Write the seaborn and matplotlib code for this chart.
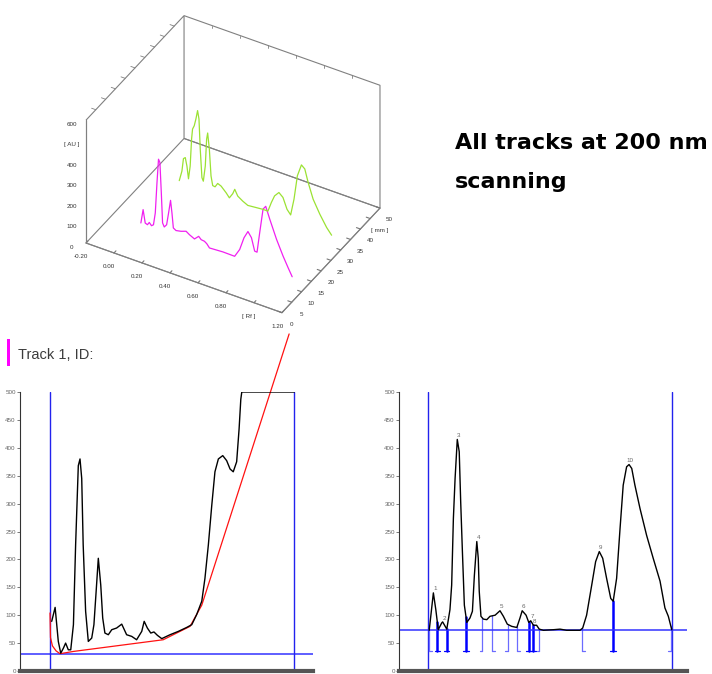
import numpy as np
import matplotlib
matplotlib.use("Agg")
import matplotlib.pyplot as plt
import seaborn as sns
from matplotlib import font_manager
from matplotlib.patches import Rectangle
from matplotlib.lines import Line2D
from mpl_toolkits.mplot3d import proj3d

# ---------------- data ----------------
# 3D overview (Rf, AU) for two tracks
track1_mm = 10
track1_rf = [0.052, 0.068, 0.083, 0.099, 0.112, 0.128, 0.142, 0.155, 0.167, 0.178,
             0.188, 0.198, 0.207, 0.219, 0.236, 0.250, 0.264, 0.274, 0.284, 0.303,
             0.339, 0.375, 0.399, 0.435, 0.465, 0.483, 0.506, 0.523, 0.542, 0.638,
             0.722, 0.758, 0.789, 0.817, 0.842, 0.865, 0.882, 0.901, 0.925, 0.944,
             0.973, 1.021, 1.068, 1.104, 1.133]
track1_au = [57, 126, 64, 60, 74, 62, 70, 131, 281, 399,
             385, 240, 95, 78, 93, 154, 219, 160, 89, 81,
             86, 95, 84, 72, 92, 80, 78, 70, 54, 58,
             57, 99, 164, 201, 177, 117, 116, 216, 337, 355,
             299, 213, 142, 94, 57]
track2_mm = 30
track2_rf = [0.046, 0.065, 0.076, 0.089, 0.101, 0.112, 0.124, 0.134, 0.141, 0.153,
             0.165, 0.177, 0.187, 0.196, 0.208, 0.218, 0.232, 0.2415, 0.249, 0.261,
             0.273, 0.285, 0.302, 0.3205, 0.345, 0.381, 0.404, 0.428, 0.4425, 0.464,
             0.500, 0.536, 0.596, 0.6435, 0.6795, 0.704, 0.727, 0.758, 0.787, 0.816,
             0.842, 0.866, 0.890, 0.919, 0.943, 0.9665, 1.0025, 1.0505, 1.099, 1.1345]
track2_au = [58, 109, 173, 181, 142, 83, 148, 282, 333, 352,
             388, 432, 393, 248, 112, 97, 175, 308, 340, 264,
             136, 92, 90, 111, 104, 80, 61, 87, 112, 84,
             68, 56, 60, 63, 63, 111, 149, 173, 156, 105,
             84, 167, 287, 347, 333, 274, 200, 138, 85, 56]

rf_ticks = [-0.2, 0.0, 0.2, 0.4, 0.6, 0.8, 1.0, 1.2]
rf_ticklabels = ["-0.20", "0.00", "0.20", "0.40", "0.60", "0.80", "[ Rf ]", "1.20"]
mm_ticks = [0, 5, 10, 15, 20, 25, 30, 35, 40, 45, 50]
mm_ticklabels = ["0", "5", "10", "15", "20", "25", "30", "35", "40", "[ mm ]", "50"]
au_ticks = [0, 100, 200, 300, 400, 500, 600]
au_ticklabels = ["0", "100", "200", "300", "400", "[ AU ]", "600"]

# Track 1 scan (left)
scan1_x = [0.007, 0.021, 0.034, 0.044, 0.055, 0.064, 0.075, 0.085, 0.096, 0.105,
           0.116, 0.123, 0.130, 0.136, 0.146, 0.157, 0.171, 0.180, 0.189, 0.198,
           0.208, 0.216, 0.225, 0.239, 0.253, 0.273, 0.294, 0.314, 0.335, 0.355,
           0.376, 0.386, 0.399, 0.413, 0.426, 0.440, 0.458, 0.492, 0.526, 0.560,
           0.581, 0.601, 0.622, 0.635, 0.649, 0.663, 0.676, 0.690, 0.708, 0.724,
           0.738, 0.751, 0.765, 0.775, 0.782, 0.786, 1.001]
scan1_y = [89, 114, 53, 32, 41, 50, 38, 38, 83, 226,
           368, 380, 345, 226, 107, 53, 59, 83, 142, 202,
           154, 95, 68, 65, 74, 77, 84, 65, 62, 56,
           71, 89, 77, 68, 70, 64, 58, 65, 71, 78,
           83, 101, 125, 166, 226, 297, 357, 380, 386, 377,
           362, 357, 375, 434, 487, 500, 500]
base1_x = [0.0, 0.002, 0.010, 0.025, 0.041, 0.095, 0.464, 0.574, 0.622, 0.980]
base1_y = [104, 60, 45, 36, 31, 35, 56, 80, 118, 604]
scan1_hline = 30

# Track 2 scan (right)
scan2_x = [0.005, 0.022, 0.032, 0.042, 0.056, 0.060, 0.077, 0.090, 0.097, 0.104,
           0.111, 0.120, 0.128, 0.134, 0.141, 0.149, 0.159, 0.172, 0.182, 0.190,
           0.200, 0.206, 0.210, 0.217, 0.227, 0.241, 0.254, 0.275, 0.295, 0.309,
           0.325, 0.343, 0.364, 0.377, 0.386, 0.402, 0.413, 0.421, 0.432, 0.445,
           0.456, 0.473, 0.514, 0.541, 0.568, 0.623, 0.634, 0.650, 0.671, 0.687,
           0.702, 0.716, 0.732, 0.749, 0.759, 0.773, 0.787, 0.800, 0.814, 0.824,
           0.835, 0.848, 0.869, 0.896, 0.923, 0.951, 0.971, 0.985, 0.999]
scan2_y = [73, 140, 110, 74, 86, 88, 75, 110, 154, 273,
           345, 415, 393, 303, 214, 118, 87, 95, 107, 171,
           232, 202, 143, 98, 93, 92, 98, 100, 108, 98,
           84, 80, 78, 95, 108, 100, 87, 90, 82, 82,
           75, 73, 74, 75, 73, 73, 77, 100, 154, 196,
           214, 202, 166, 130, 125, 166, 255, 333, 366, 370,
           363, 333, 291, 243, 202, 161, 113, 98, 74]
scan2_hline = 73
peak_start = [0.005, 0.038, 0.077, 0.156, 0.264, 0.366, 0.413, 0.432, 0.632, 0.759]
peak_end = [0.038, 0.077, 0.156, 0.223, 0.328, 0.413, 0.432, 0.456, 0.759, 0.995]
peak_labels = ["1", "2", "3", "4", "5", "6", "7", "8", "9", "10"]
bracket_bottom = 36
scan_yticks = [0, 50, 100, 150, 200, 250, 300, 350, 400, 450, 500]

title_lines = ["All tracks at 200 nm", "scanning"]
track_title = "Track 1, ID:"

# ---------------- figure ----------------
sns.set_style("white")
plt.rcParams["font.family"] = ["Liberation Sans", "DejaVu Sans"]
W, H = 712, 674
fig = plt.figure(figsize=(W / 100, H / 100), dpi=100)
fig.patch.set_facecolor("white")


def fig_rect(x0, y0, x1, y1):
    return [x0 / W, (H - y1) / H, (x1 - x0) / W, (y1 - y0) / H]


# ---- 3D overview ----
ax3 = fig.add_axes([80 / W, 359 / H, 300 / W, 300 / H], projection="3d")
ax3.set_proj_type("ortho")
ax3.view_init(elev=38, azim=-60)
ax3.set_box_aspect((225, 195, 155))
ax3.set_facecolor("none")
rf_lo, rf_hi = rf_ticks[0], rf_ticks[-1]
mm_lo, mm_hi = mm_ticks[0], mm_ticks[-1]
au_lo, au_hi = au_ticks[0], au_ticks[-1]
box_col = "#808080"
ax3.plot(track1_rf, np.full(len(track1_rf), track1_mm), track1_au, color="#f020f0", lw=0.9)
ax3.plot(track2_rf, np.full(len(track2_rf), track2_mm), track2_au, color="#9be233", lw=0.9)
# decorative ticks on the upper edges of the box
for m in mm_ticks[1:-1]:
    ax3.plot([rf_lo, rf_lo - 0.03], [m, m], [au_hi, au_hi], color=box_col, lw=0.6)
for r in rf_ticks[1:-1]:
    ax3.plot([r, r], [mm_hi, mm_hi], [au_hi, au_hi - 14], color=box_col, lw=0.6)
ax3.set_xlim(rf_lo, rf_hi)
ax3.set_ylim(mm_lo, mm_hi)
ax3.set_zlim(au_lo, au_hi)
ax3.set_xticks(rf_ticks, labels=rf_ticklabels)
ax3.set_yticks(mm_ticks, labels=mm_ticklabels)
ax3.set_zticks(au_ticks, labels=au_ticklabels)
ax3.grid(False)
for axis in (ax3.xaxis, ax3.yaxis, ax3.zaxis):
    axis.pane.set_alpha(None)
    axis.pane.set_facecolor((1, 1, 1, 0))
    axis.pane.set_edgecolor(box_col)
    axis.pane.set_linewidth(0.8)
    axis.line.set_color(box_col)
    axis.line.set_linewidth(0.8)
    axis._axinfo["tick"]["inward_factor"] = 0.0
    axis._axinfo["tick"]["outward_factor"] = 0.25
    axis.set_tick_params(labelsize=4.5, labelcolor="#333333", color="#777777", width=0.5, pad=-2)
ax3.zaxis._axinfo["tick"]["outward_factor"] = 0.0
ax3.zaxis.set_ticks_position("lower")
ax3.zaxis.set_label_position("lower")

# fit the projected box to the layout
fig.canvas.draw()
corners = np.array([(rf_lo, mm_lo, au_lo), (rf_hi, mm_lo, au_lo), (rf_hi, mm_hi, au_lo),
                    (rf_lo, mm_lo, au_hi), (rf_lo, mm_hi, au_hi), (rf_lo, mm_hi, au_lo)], dtype=float)
targets = np.array([(87, 243), (282, 313), (380, 209), (87, 121), (183, 15), (183, 137)], dtype=float)
targets[:, 1] = H - targets[:, 1]
xs, ys, _ = proj3d.proj_transform(corners[:, 0], corners[:, 1], corners[:, 2], ax3.get_proj())
disp = ax3.transData.transform(np.column_stack([xs, ys]))
dm, tm = disp.mean(0), targets.mean(0)
s = ((disp - dm) * (targets - tm)).sum() / ((disp - dm) ** 2).sum()
bb = ax3.bbox
C = np.array([(bb.x0 + bb.x1) / 2, (bb.y0 + bb.y1) / 2])
Cn = tm - s * (dm - C)
Sn = s * bb.width
ax3.set_position([(Cn[0] - Sn / 2) / W, (Cn[1] - Sn / 2) / H, Sn / W, Sn / H])
# front-left vertical edge of the box (from the projected box corners)
new_disp = Cn + s * (disp - C)
edge = new_disp[[0, 3]]
fig.add_artist(Line2D(edge[:, 0] / W, edge[:, 1] / H, transform=fig.transFigure,
                      color=box_col, lw=0.8))

# ---- texts ----
fig.text(455 / W, 1 - 149 / H, title_lines[0], fontsize=16, fontweight="bold",
         family="DejaVu Sans", color="black", va="baseline", ha="left")
fig.text(455 / W, 1 - 188 / H, title_lines[1], fontsize=16, fontweight="bold",
         family="DejaVu Sans", color="black", va="baseline", ha="left")

names = {f.name for f in font_manager.fontManager.ttflist}
if "Liberation Sans Narrow" in names:
    tfam, tsize = "Liberation Sans Narrow", 13
else:
    tfam, tsize = "Liberation Sans", 10.5
fig.text(18 / W, 1 - 359 / H, track_title, fontsize=tsize, family=tfam, color="#3c3c3c",
         va="baseline", ha="left")
fig.add_artist(Rectangle((7.3 / W, 1 - 366 / H), 2.7 / W, 27 / H, transform=fig.transFigure,
                         facecolor="#ff00ff", edgecolor="none"))


def style_scan_axes(ax, xlim):
    ax.set_xlim(*xlim)
    ax.set_ylim(0, 500)
    ax.set_yticks(scan_yticks)
    ax.set_xticks([])
    ax.tick_params(axis="y", labelsize=4.5, labelcolor="#666666", length=2, width=0.5,
                   color="#444444", pad=1, left=True)
    for side in ("top", "right"):
        ax.spines[side].set_visible(False)
    ax.spines["left"].set_color("#333333")
    ax.spines["left"].set_linewidth(0.8)
    ax.spines["bottom"].set_color("#555555")
    ax.spines["bottom"].set_linewidth(3)
    ax.set_facecolor("none")
    ax.set_xlabel("")
    ax.set_ylabel("")


# ---- left scan ----
ax1 = fig.add_axes(fig_rect(20, 392, 313, 671))
ax1.axhline(scan1_hline, color="#3333ff", lw=1.1)
ax1.axvline(0, color="#2222ee", lw=1.0)
ax1.axvline(1, color="#2222ee", lw=1.0)
sns.lineplot(x=base1_x, y=base1_y, ax=ax1, color="#ff1111", linewidth=0.9, sort=False,
             estimator=None, clip_on=False)
sns.lineplot(x=scan1_x, y=scan1_y, ax=ax1, color="black", linewidth=1.0, sort=False,
             estimator=None)
style_scan_axes(ax1, ((20 - 50) / 244, (313 - 50) / 244))

# ---- right scan ----
ax2 = fig.add_axes(fig_rect(399, 392, 687, 671))
ax2.axvline(0, color="#2222ee", lw=1.0)
ax2.axvline(1, color="#2222ee", lw=1.0)
sx = np.array(scan2_x)
sy = np.array(scan2_y)
starts, ends = set(peak_start), set(peak_end)
foot = 2.7 / 244
for b in sorted(starts | ends):
    shared = (b in starts) and (b in ends)
    col = "#0000ff" if shared else "#6b6bff"
    lw = 1.8 if shared else 0.9
    top = np.interp(b, sx, sy)
    ax2.plot([b, b], [bracket_bottom, top], color=col, lw=lw)
    left = b - foot if b in ends else b
    right = b + foot if b in starts else b
    ax2.plot([left, right], [bracket_bottom, bracket_bottom], color=col, lw=0.9)
ax2.axhline(scan2_hline, color="#3333ff", lw=1.1)
sns.lineplot(x=scan2_x, y=scan2_y, ax=ax2, color="black", linewidth=1.0, sort=False,
             estimator=None)
for lab, s0, e0 in zip(peak_labels, peak_start, peak_end):
    m = (sx >= s0) & (sx <= e0)
    i = np.argmax(sy[m])
    ax2.annotate(lab, (sx[m][i], sy[m][i]), xytext=(1, 1), textcoords="offset points",
                 ha="center", va="bottom", fontsize=4.5, color="#666666")
style_scan_axes(ax2, ((399 - 428) / 244, (687 - 428) / 244))

fig.savefig("out.png", dpi=100, facecolor="white")
